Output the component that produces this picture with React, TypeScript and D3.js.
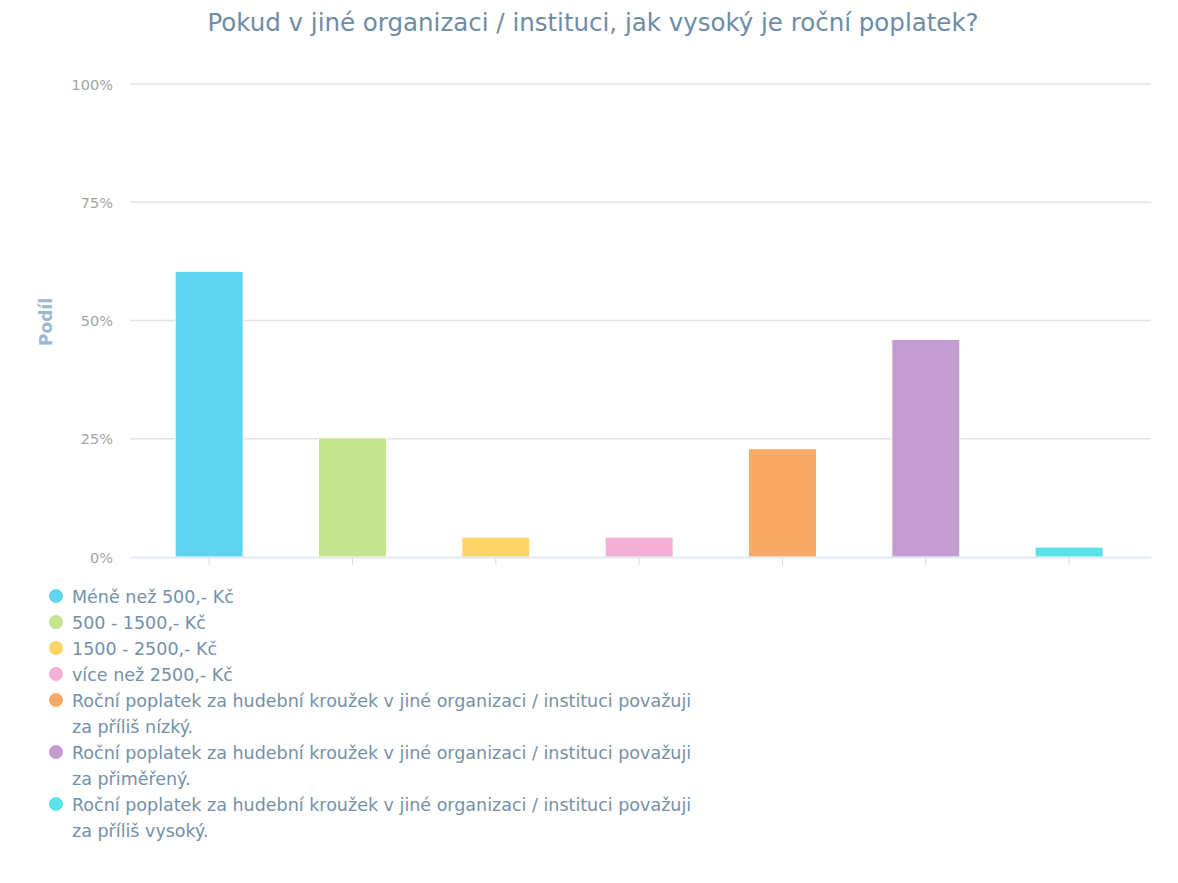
import React from "react";
import * as d3 from "d3";

const title = "Pokud v jiné organizaci / instituci, jak vysoký je roční poplatek?";
const yAxisTitle = "Podíl";
const categories = [
  "Méně než 500,- Kč",
  "500 - 1500,- Kč",
  "1500 - 2500,- Kč",
  "více než 2500,- Kč",
  "Roční poplatek za hudební kroužek v jiné organizaci / instituci považuji za příliš nízký.",
  "Roční poplatek za hudební kroužek v jiné organizaci / instituci považuji za přiměřený.",
  "Roční poplatek za hudební kroužek v jiné organizaci / instituci považuji za příliš vysoký.",
];
const values = [60.4, 25.2, 4.2, 4.2, 22.9, 46.0, 2.1];
const colors = ["#5fd5f1", "#c3e58f", "#fdd567", "#f4afd6", "#f8a966", "#c59cd0", "#5be1e9"];
const yTicks = [0, 25, 50, 75, 100];

const W = 1178;
const H = 883;
const legendFontSize = 17.5;
const legendFamily = "'DejaVu Sans', sans-serif";

function wrap(text: string, maxW: number): string[] {
  const canvas = document.createElement("canvas");
  const ctx = canvas.getContext("2d")!;
  ctx.font = `${legendFontSize}px ${legendFamily}`;
  const words = text.split(" ");
  const lines: string[] = [];
  let cur = "";
  for (const w of words) {
    const t = cur ? cur + " " + w : w;
    if (ctx.measureText(t).width > maxW && cur) {
      lines.push(cur);
      cur = w;
    } else cur = t;
  }
  if (cur) lines.push(cur);
  return lines;
}

export default function App() {
  const x = d3.scaleBand<string>().domain(categories).range([137.5, 1140.8]).padding(0);
  const y = d3.scaleLinear().domain([0, 100]).range([557, 84]);
  const barW = 68;

  let ly = 596;
  const legendItems = categories.map((c, i) => {
    const lines = wrap(c, 628);
    const item = { c, i, lines, y: ly };
    ly += lines.length * 26;
    return item;
  });

  return (
    <svg width={W} height={H} style={{ position: "absolute", left: 0, top: 0, background: "#fff" }}
      fontFamily="'DejaVu Sans', sans-serif">
      <rect x={0} y={0} width={W} height={H} fill="#fff" />
      <text x={593} y={31} textAnchor="middle" fontSize={24.5} fill="#6e8ca6">{title}</text>
      {yTicks.map((t) => (
        <g key={t}>
          {t > 0 && <line x1={130} x2={1151} y1={y(t)} y2={y(t)} stroke="#e3e3e3" strokeWidth={1.5} />}
          <text x={113} y={y(t) + 5.5} textAnchor="end" fontSize={14.5} fill="#a3a3a3">{t}%</text>
        </g>
      ))}
      <text transform={`translate(52,322) rotate(-90)`} textAnchor="middle" fontSize={17}
        fontWeight="bold" fill="#9bb8d2">{yAxisTitle}</text>
      {categories.map((c, i) => (
        <rect key={c} x={x(c)! + x.bandwidth() / 2 - barW / 2} y={y(values[i])} width={barW}
          height={y(0) - y(values[i])} fill={colors[i]} stroke="#fff" strokeWidth={1} />
      ))}
      <line x1={130} x2={1151} y1={557.5} y2={557.5} stroke="#dce6f2" strokeWidth={1.5} />
      {categories.map((c) => (
        <line key={c} x1={x(c)! + x.bandwidth() / 2} x2={x(c)! + x.bandwidth() / 2} y1={558} y2={565}
          stroke="#d3dff0" strokeWidth={1} />
      ))}
      {legendItems.map((it) => (
        <g key={it.c}>
          <circle cx={56} cy={it.y} r={7} fill={colors[it.i]} />
          <text x={72} y={it.y + 6.5} fontSize={legendFontSize} fill="#7590a8" fontFamily={legendFamily}>
            {it.lines.map((l, k) => (
              <tspan key={k} x={72} dy={k === 0 ? 0 : 26}>{l}</tspan>
            ))}
          </text>
        </g>
      ))}
    </svg>
  );
}
